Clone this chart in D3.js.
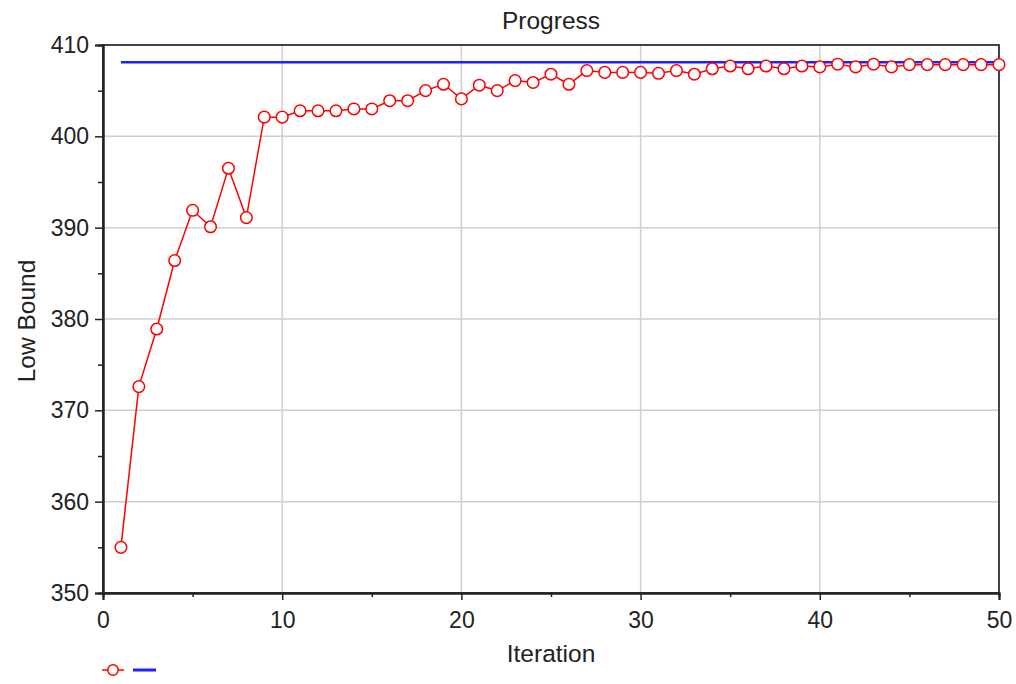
<!DOCTYPE html>
<html>
<head>
<meta charset="utf-8">
<script src="https://cdn.jsdelivr.net/npm/d3@7"></script>
<style>
  html, body { margin: 0; padding: 0; background: #fff; }
  svg { display: block; }
  text { font-family: "Liberation Sans", Arial, sans-serif; fill: #222; }
</style>
</head>
<body>
<svg id="chart" width="1016" height="684"></svg>
<script>
// Lower bound found at each iteration
const iterations = [1,2,3,4,5,6,7,8,9,10,11,12,13,14,15,16,17,18,19,20,
  21,22,23,24,25,26,27,28,29,30,31,32,33,34,35,36,37,38,39,40,
  41,42,43,44,45,46,47,48,49,50];
const lowBound = [355.0,372.6,378.9,386.4,391.9,390.1,396.5,391.1,402.1,402.1,
  402.8,402.8,402.8,403.0,403.0,403.9,403.9,405.0,405.7,404.1,
  405.6,405.0,406.1,405.9,406.8,405.7,407.2,407.0,407.0,407.0,
  406.9,407.2,406.8,407.4,407.7,407.4,407.7,407.4,407.7,407.6,
  407.9,407.6,407.9,407.6,407.85,407.85,407.85,407.85,407.85,407.85];

// Reference bound (horizontal line)
const boundX = [1, 50];
const boundY = [408.1, 408.1];

// Axis ticks
const xTicks = [0, 10, 20, 30, 40, 50];
const xMinorTicks = [5, 15, 25, 35, 45];
const yTicks = [350, 360, 370, 380, 390, 400, 410];
const yMinorTicks = [355, 365, 375, 385, 395, 405];

const svg = d3.select("#chart");
const plotL = 103, plotR = 999, plotT = 45, plotB = 593;

const x = d3.scaleLinear().domain([0, 50]).range([plotL, plotR]);
const y = d3.scaleLinear().domain([350, 410]).range([plotB, plotT]);

// grid
const grid = svg.append("g").attr("stroke", "#cfcfcf").attr("stroke-width", 1.5);
grid.selectAll("line.gx").data(xTicks.slice(1, -1)).join("line")
  .attr("x1", d => x(d)).attr("x2", d => x(d))
  .attr("y1", plotT).attr("y2", plotB);
grid.selectAll("line.gy").data(yTicks.slice(1, -1)).join("line")
  .attr("x1", plotL).attr("x2", plotR)
  .attr("y1", d => y(d)).attr("y2", d => y(d));

// frame
svg.append("rect")
  .attr("x", plotL).attr("y", plotT)
  .attr("width", plotR - plotL).attr("height", plotB - plotT)
  .attr("fill", "none").attr("stroke", "#444").attr("stroke-width", 2);

// axes
const fontSize = 23;
const titleSize = 24.5;
svg.append("g").attr("transform", `translate(0,${plotB})`)
  .call(d3.axisBottom(x).tickValues(xTicks).tickSize(7).tickPadding(12).tickFormat(d3.format("d")));
svg.append("g").attr("transform", `translate(0,${plotB})`)
  .call(d3.axisBottom(x).tickValues(xMinorTicks).tickSize(4).tickFormat(""));
svg.append("g").attr("transform", `translate(${plotL},0)`)
  .call(d3.axisLeft(y).tickValues(yTicks).tickSize(8).tickPadding(6).tickFormat(d3.format("d")));
svg.append("g").attr("transform", `translate(${plotL},0)`)
  .call(d3.axisLeft(y).tickValues(yMinorTicks).tickSize(5).tickFormat(""));

svg.selectAll(".domain").attr("stroke", "#222").attr("stroke-width", 2);
svg.selectAll(".tick line").attr("stroke", "#222").attr("stroke-width", 1.5);
svg.selectAll(".tick text")
  .style("font-family", '"Liberation Sans", Arial, sans-serif')
  .style("font-size", fontSize + "px").attr("fill", "#222");

// titles
svg.append("text").attr("x", (plotL + plotR) / 2).attr("y", 29)
  .attr("text-anchor", "middle").style("font-size", titleSize + "px").text("Progress");
svg.append("text").attr("x", (plotL + plotR) / 2).attr("y", 662)
  .attr("text-anchor", "middle").style("font-size", titleSize + "px").text("Iteration");
svg.append("text")
  .attr("transform", `translate(35,${(plotT + plotB) / 2 + 2}) rotate(-90)`)
  .attr("text-anchor", "middle").style("font-size", titleSize + "px").text("Low Bound");

// bound line
const boundPts = boundX.map((d, i) => [d, boundY[i]]);
svg.append("path").datum(boundPts)
  .attr("fill", "none").attr("stroke", "#1f1fff").attr("stroke-width", 2.5)
  .attr("d", d3.line().x(d => x(d[0])).y(d => y(d[1])));

// low bound series
const pts = iterations.map((d, i) => [d, lowBound[i]]);
svg.append("path").datum(pts)
  .attr("fill", "none").attr("stroke", "#ff0000").attr("stroke-width", 1.5)
  .attr("d", d3.line().x(d => x(d[0])).y(d => y(d[1])));
svg.append("g").selectAll("circle").data(pts).join("circle")
  .attr("cx", d => x(d[0])).attr("cy", d => y(d[1])).attr("r", 5.8)
  .attr("fill", "#fff").attr("stroke", "#ff0000").attr("stroke-width", 1.5);

// legend
const lg = svg.append("g");
lg.append("line").attr("x1", 102).attr("x2", 124).attr("y1", 670).attr("y2", 670)
  .attr("stroke", "#ff0000").attr("stroke-width", 1.5);
lg.append("circle").attr("cx", 113).attr("cy", 670).attr("r", 5.2)
  .attr("fill", "#fff").attr("stroke", "#ff0000").attr("stroke-width", 1.5);
lg.append("line").attr("x1", 133).attr("x2", 156).attr("y1", 670).attr("y2", 670)
  .attr("stroke", "#1f1fff").attr("stroke-width", 3);
</script>
</body>
</html>
